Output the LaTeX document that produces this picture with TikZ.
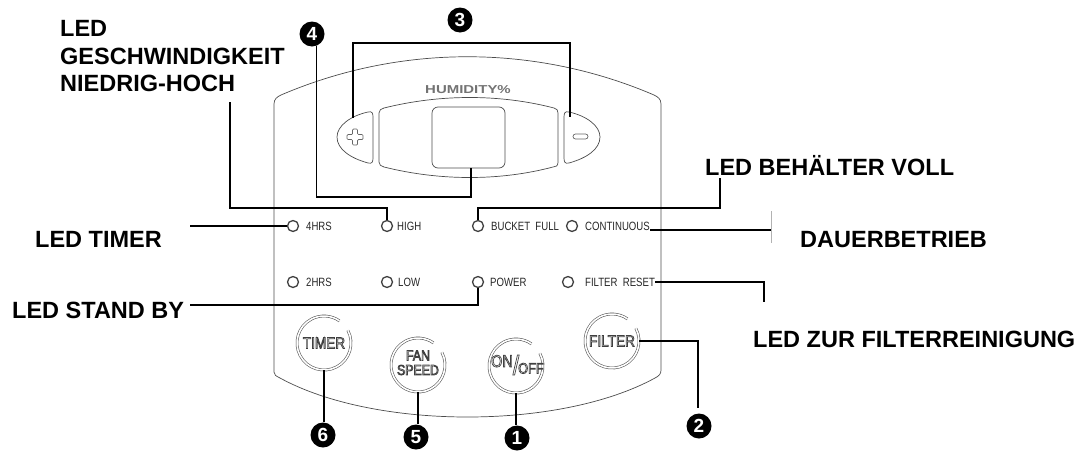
\documentclass[tikz,border=0pt]{standalone}
\usepackage{fontspec}
\setmainfont{Liberation Sans}
\newfontfamily\narrowfont[FakeStretch=0.8]{Liberation Sans}
\newfontfamily\btnfont[FakeStretch=0.85]{Liberation Sans}
\newfontfamily\widefont[FakeStretch=1.3]{Liberation Sans}
\newcommand\outltext[1]{\special{pdf:literal direct 1 Tr 0.7 w}#1\special{pdf:literal direct 0 Tr}}
\begin{document}
\begin{tikzpicture}[x=1pt,y=-1pt,
  panel/.style={draw=black!70, line width=0.7pt},
  call/.style={draw=black, line width=1.2pt},
  led/.style={circle, draw=black!75, line width=1.3pt, minimum size=11pt, inner sep=0pt},
  ledtext/.style={anchor=west, inner sep=0pt, text=black!85, font=\narrowfont\fontsize{12}{12}\selectfont},
  badge/.style={circle, fill=black, text=white, inner sep=0pt, minimum size=25pt, font=\bfseries\fontsize{19}{19}\selectfont},
  big/.style={inner sep=0pt, font=\bfseries\fontsize{23.5}{27.5}\selectfont},
  btn/.style={circle, minimum size=54pt, inner sep=0pt},
  ring/.style={draw=black!70, line width=0.55pt, double=white, double distance=1.6pt},
  btntext/.style={inner sep=0pt, text=black!75, font=\btnfont\fontsize{16}{13}\selectfont},
]
\useasboundingbox (0,0) rectangle (1091,450);

% panel outline
\draw[panel] (274,372) -- (274,104) .. controls (274,99) and (277,97) .. (281,95)
  .. controls (400,44) and (535,44) .. (654,95)
  .. controls (658,97) and (661,99) .. (661,104) -- (661,370)
  .. controls (661,374) and (659,376) .. (655,378)
  .. controls (560,430) and (375,430) .. (280,378)
  .. controls (276,376) and (274,375) .. (274,372) -- cycle;

% display
\node[font=\widefont\bfseries\fontsize{11.5}{11.5}\selectfont, text=black!55, inner sep=0pt] (hum) at (468,90) {HUMIDITY\%};
\draw[panel] (368,112) .. controls (350,116) and (337,126) .. (337,137)
  .. controls (337,149) and (350,158) .. (368,163)
  .. controls (372,164) and (373,162) .. (373,158) -- (373,117)
  .. controls (373,113) and (372,111) .. (368,112) -- cycle;
\draw[panel] (569,112) .. controls (587,116) and (600,126) .. (600,137)
  .. controls (600,149) and (587,158) .. (569,163)
  .. controls (565,164) and (564,162) .. (564,158) -- (564,117)
  .. controls (564,113) and (565,111) .. (569,112) -- cycle;
\draw[panel] (384,108) .. controls (440,94) and (500,94) .. (554,108)
  .. controls (557,109) and (558,110) .. (558,113) -- (558,162)
  .. controls (558,166) and (556,167) .. (553,167)
  .. controls (500,181) and (440,181) .. (384,167)
  .. controls (381,166) and (379,165) .. (379,162) -- (379,113)
  .. controls (379,110) and (381,109) .. (384,108) -- cycle;
\draw[panel, rounded corners=6pt] (432,107) rectangle (505,168);
% plus and minus glyphs
\draw[draw=black!60, line width=0.7pt, rounded corners=1pt]
  (352.5,129) -- (357.5,129) -- (357.5,134.5) -- (363,134.5) -- (363,139.5) -- (357.5,139.5)
  -- (357.5,145) -- (352.5,145) -- (352.5,139.5) -- (347,139.5) -- (347,134.5) -- (352.5,134.5) -- cycle;
\draw[draw=black!60, line width=0.7pt, rounded corners=2.5pt] (573,134) rectangle (588,139);

% LEDs
\node[led] (l4hrs)   at (293,226) {};
\node[led] (lhigh)   at (387,226) {};
\node[led] (lbucket) at (478,226) {};
\node[led] (lcont)   at (572,226) {};
\node[led] (l2hrs)   at (293,282) {};
\node[led] (llow)    at (387,282) {};
\node[led] (lpower)  at (478,282) {};
\node[led] (lfr)     at (568,282) {};
\node[ledtext] (t4hrs)   at (306,226) {4HRS};
\node[ledtext] (thigh)   at (397,226) {HIGH};
\node[ledtext] (tbucket) at (491,226) {BUCKET~~FULL};
\node[ledtext] (tcont)   at (585,226) {CONTINUOUS};
\node[ledtext] (t2hrs)   at (306,282) {2HRS};
\node[ledtext] (tlow)    at (398,282) {LOW};
\node[ledtext] (tpower)  at (490,282) {POWER};
\node[ledtext] (tfr)     at (585,282) {FILTER~~RESET};

% buttons
\node[btn] (btimer)  at (324,343) {};
\node[btn] (bfan)    at (418,365) {};
\node[btn] (bonoff)  at (516,366) {};
\node[btn] (bfilter) at (612,341) {};
\foreach \b in {btimer,bfan,bonoff,bfilter}
  \draw[ring] (\b.center) ++(-28:27) arc[start angle=-28, end angle=305, radius=27];
\node[btntext] (xtimer) at (btimer.center) {\outltext{TIMER}};
\node[btntext, anchor=base, font=\btnfont\fontsize{14.5}{14.5}\selectfont] (xfan) at ([shift={(0,-4.5)}]bfan.center) {\outltext{FAN}};
\node[btntext, anchor=base, font=\btnfont\fontsize{14.5}{14.5}\selectfont] (xspeed) at ([shift={(0,10)}]bfan.center) {\outltext{SPEED}};
\node[btntext, anchor=base east, font=\btnfont\fontsize{17}{17}\selectfont] (xon) at ([shift={(-3,1)}]bonoff.center) {\outltext{ON}};
\node[btntext, font=\btnfont\fontsize{27}{27}\selectfont] (xsl) at ([shift={(0,-1)}]bonoff.center) {\outltext{/}};
\node[btntext, anchor=base west, font=\btnfont\fontsize{15}{15}\selectfont] (xoff) at ([shift={(2,7.5)}]bonoff.center) {\outltext{OFF}};
\node[btntext] (xfilter) at (bfilter.center) {\outltext{FILTER}};

% badges
\node[badge] (c3) at (460,20) {3};
\node[badge] (c4) at (312,34) {4};
\node[badge] (c6) at (323,435) {6};
\node[badge] (c5) at (416,437) {5};
\node[badge] (c1) at (517,438) {1};
\node[badge] (c2) at (699,426) {2};

% big labels
\node[big, align=left, anchor=north west] (lgesch) at (60,20.2) {LED\\GESCHWINDIGKEIT\\NIEDRIG-HOCH};
\node[big, anchor=base west] (ltimer) at (35,247) {LED TIMER};
\node[big, anchor=base west] (lstand) at (12,318) {LED STAND BY};
\node[big, anchor=base west] (lvoll) at (705,175) {LED BEHÄLTER VOLL};
\node[big, anchor=base west] (ldauer) at (800,247) {DAUERBETRIEB};
\node[big, anchor=base west] (lfilt) at (753,347) {LED ZUR FILTERREINIGUNG};

% connector helper points
\coordinate (p3l) at (353,118);
\coordinate (p3r) at (570,117);
\coordinate (b3l) at (353,43);
\coordinate (b3r) at (570,43);
\coordinate (sqb) at (471,168);
\coordinate (k4) at (317,197);
\coordinate (g1) at (230,102);
\coordinate (g2) at (230,208);
\coordinate (bk1) at (720,208);
\coordinate (bk2) at (720,178);
\coordinate (t1) at (190,226);
\coordinate (s1) at (190,305);
\coordinate (cn1) at (650,230);
\coordinate (cn2) at (771,230);
\coordinate (tk1) at (771,211);
\coordinate (tk2) at (771,243);
\coordinate (fr2) at (764,302);
\coordinate (f2) at (698,408);

% connectors
\draw[call] (p3l) -- (b3l) -- (b3r) -- (p3r);
\draw[call] (c4.290) -- (c4.290 |- k4) -| (sqb);
\draw[call] (g1) -- (g2) -| (lhigh.north);
\draw[call] (lbucket.north) |- (bk1) -- (bk2);
\draw[call] (t1) -- (l4hrs.west);
\draw[call] (s1) -| (lpower.south);
\draw[call] (cn1) -- (cn2);
\draw[draw=black!30, line width=0.8pt] (tk1) -- (tk2);
\draw[call] (tfr.east) -| (fr2);
\draw[call] (bfilter.east) -| (f2);
\draw[call] (btimer.south) -- (btimer.south |- c6.north);
\draw[call] (bfan.south) -- (bfan.south |- c5.north);
\draw[call] (bonoff.south) -- (bonoff.south |- c1.north);
\end{tikzpicture}
\end{document}
